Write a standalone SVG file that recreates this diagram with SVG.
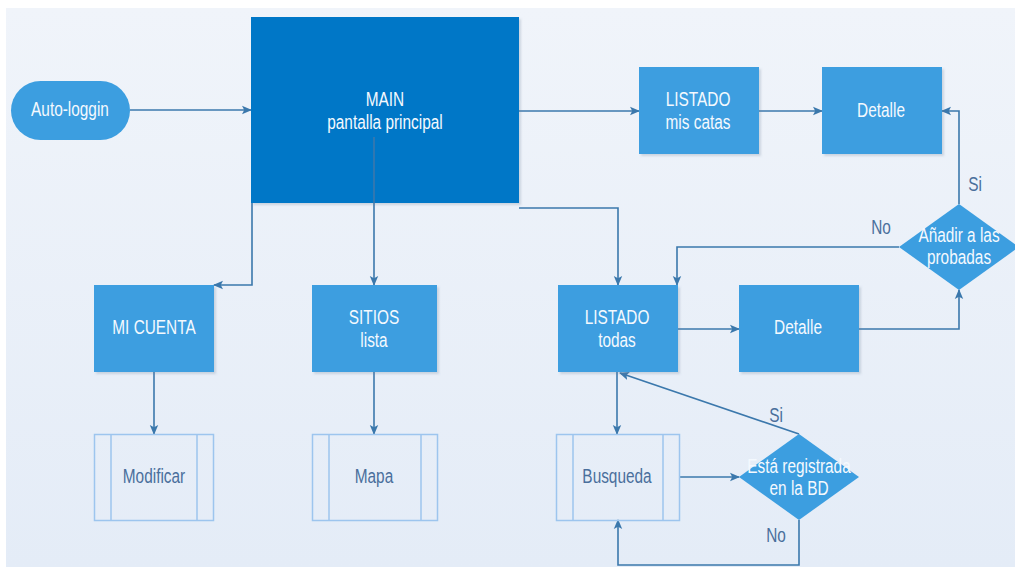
<svg xmlns="http://www.w3.org/2000/svg" width="1015" height="567" viewBox="0 0 1015 567">
<defs>
<linearGradient id="bg" x1="0" y1="0" x2="0" y2="1">
<stop offset="0" stop-color="#F0F4FA"/>
<stop offset="1" stop-color="#E4ECF7"/>
</linearGradient>
<filter id="sh" x="-10%" y="-10%" width="125%" height="125%">
<feDropShadow dx="2" dy="2" stdDeviation="1.2" flood-color="#6A7E96" flood-opacity="0.25"/>
</filter>
<marker id="ah" markerUnits="userSpaceOnUse" markerWidth="10" markerHeight="10" viewBox="0 0 10 10" refX="9" refY="5" orient="auto">
<path d="M0,0.8 L10,5 L0,9.2 L2.2,5 Z" fill="#3B78AC"/>
</marker>
<style>
text{font-family:"Liberation Sans",Arial,sans-serif;font-size:20px;text-anchor:middle;transform-box:fill-box;transform-origin:center;transform:scaleX(0.77)}
.w{fill:#F4F9FE}
.d{fill:#4A6F9C}
.box{fill:#3C9EE0;filter:url(#sh)}
.pp{fill:none;stroke:#9DC5EE;stroke-width:1.5}
.c{fill:none;stroke:#3B78AC;stroke-width:1.6}
.ca{fill:none;stroke:#3B78AC;stroke-width:1.6;marker-end:url(#ah)}
</style>
</defs>
<rect x="6" y="8" width="1009" height="559" fill="url(#bg)"/>

<g id="connectors">
<line class="ca" x1="130" y1="110" x2="251" y2="110"/>
<line class="ca" x1="519" y1="111" x2="639" y2="111"/>
<line class="ca" x1="759" y1="111" x2="822" y2="111"/>
<polyline class="ca" points="959,204 959,111 942,111"/>
<polyline class="ca" points="899,247 677,247 677,285"/>
<polyline class="ca" points="519,208 618,208 618,285"/>
<polyline class="ca" points="252,203 252,285 214,285"/>
<line class="ca" x1="374" y1="137" x2="374" y2="285"/>
<line class="ca" x1="678" y1="329" x2="739" y2="329"/>
<polyline class="ca" points="859,329 959,329 959,290"/>
<line class="ca" x1="154" y1="372" x2="154" y2="434"/>
<line class="ca" x1="374" y1="372" x2="374" y2="434"/>
<line class="ca" x1="617" y1="372" x2="617" y2="434"/>
<line class="ca" x1="680" y1="477" x2="739" y2="477"/>
<line class="ca" x1="799" y1="434" x2="620" y2="373"/>
<polyline class="ca" points="799,520 799,565 618,565 618,520"/>
<text class="d" x="975" y="191">Si</text>
<text class="d" x="881" y="234">No</text>
<text class="d" x="776" y="422">Si</text>
<text class="d" x="776" y="542">No</text>
</g>

<g id="auto-loggin">
<rect x="11" y="81" width="119" height="59" rx="29.5" fill="#3C9EE0"/>
<text class="w" x="70" y="116">Auto-loggin</text>
</g>

<g id="main">
<rect x="251" y="17" width="268" height="186" fill="#0277C7" filter="url(#sh)"/>
<text class="w" x="385" y="106">MAIN</text>
<text class="w" x="385" y="129">pantalla principal</text>
</g>
<line class="c" x1="374" y1="137" x2="374" y2="203"/>

<g id="listado-mis-catas">
<rect class="box" x="639" y="67" width="120" height="87"/>
<text class="w" x="698" y="106">LISTADO</text>
<text class="w" x="698" y="129">mis catas</text>
</g>

<g id="detalle-1">
<rect class="box" x="822" y="67" width="120" height="87"/>
<text class="w" x="881" y="117">Detalle</text>
</g>

<g id="anadir">
<polygon points="959,204 1019,247 959,290 899,247" fill="#3C9EE0"/>
<text class="w" x="959" y="242">Añadir a las</text>
<text class="w" x="959" y="264">probadas</text>
</g>

<g id="mi-cuenta">
<rect class="box" x="94" y="285" width="120" height="87"/>
<text class="w" x="154" y="334">MI CUENTA</text>
</g>

<g id="sitios">
<rect class="box" x="312" y="285" width="125" height="87"/>
<text class="w" x="374" y="324">SITIOS</text>
<text class="w" x="374" y="347">lista</text>
</g>

<g id="listado-todas">
<rect class="box" x="558" y="285" width="120" height="87"/>
<text class="w" x="617" y="324">LISTADO</text>
<text class="w" x="617" y="347">todas</text>
</g>

<g id="detalle-2">
<rect class="box" x="739" y="285" width="120" height="87"/>
<text class="w" x="798" y="334">Detalle</text>
</g>

<g id="modificar">
<rect class="pp" x="94.5" y="434.5" width="119" height="86"/>
<line class="pp" x1="111" y1="434.5" x2="111" y2="520.5"/>
<line class="pp" x1="197" y1="434.5" x2="197" y2="520.5"/>
<text class="d" x="154" y="483">Modificar</text>
</g>

<g id="mapa">
<rect class="pp" x="312.5" y="434.5" width="125" height="86"/>
<line class="pp" x1="329" y1="434.5" x2="329" y2="520.5"/>
<line class="pp" x1="421" y1="434.5" x2="421" y2="520.5"/>
<text class="d" x="374" y="483">Mapa</text>
</g>

<g id="busqueda">
<rect class="pp" x="556.5" y="434.5" width="123" height="86"/>
<line class="pp" x1="573" y1="434.5" x2="573" y2="520.5"/>
<line class="pp" x1="663" y1="434.5" x2="663" y2="520.5"/>
<text class="d" x="617" y="483">Busqueda</text>
</g>

<g id="registrada">
<polygon points="799,434 859,477 799,520 739,477" fill="#3C9EE0"/>
<text class="w" x="799" y="473">Está registrada</text>
<text class="w" x="799" y="495">en la BD</text>
</g>
</svg>
